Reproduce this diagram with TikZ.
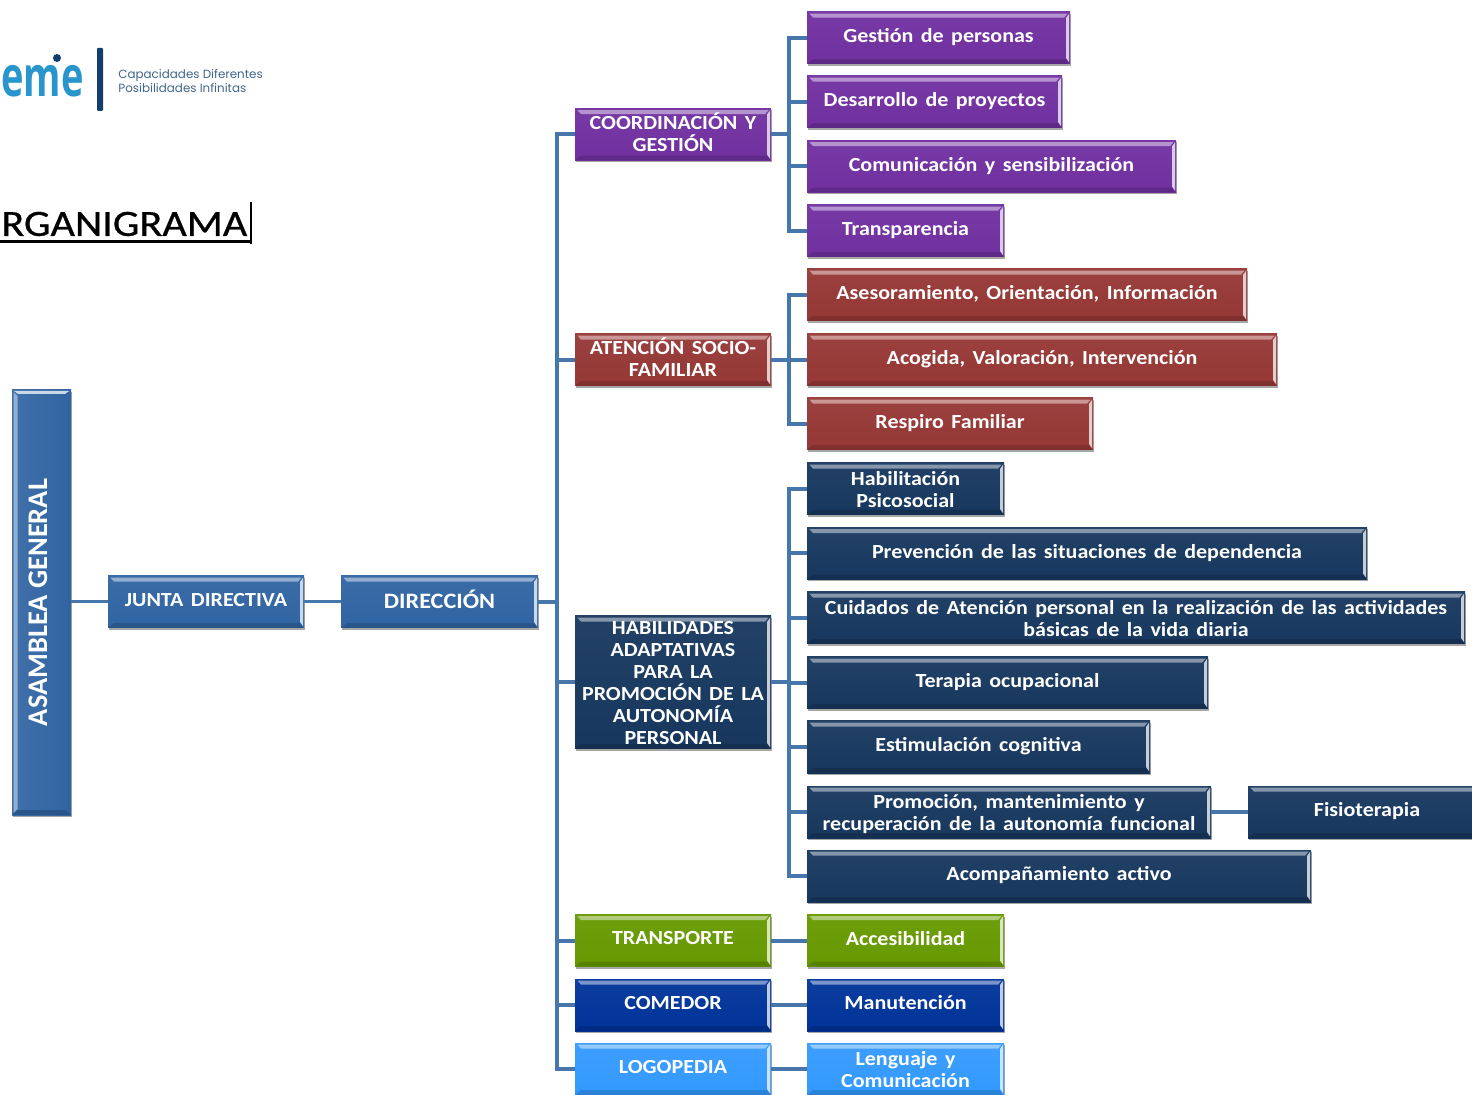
\documentclass[tikz,border=0pt]{standalone}
\usepackage{fontspec}
\usepackage{graphicx}
\setmainfont{Carlito}
\newfontfamily\boxfont{Carlito}[BoldFont={Carlito Bold},BoldFeatures={FakeStretch=1.1},WordSpace=1.5]
\newfontfamily\asamfont{Carlito}
\newfontfamily\titlefont{Carlito}[FakeStretch=1.14,FakeBold=0.7]
\newfontfamily\logofont{Open Sans}[BoldFeatures={FakeStretch=0.68}]
\newfontfamily\slogfont{Poppins}
\usetikzlibrary{shadows}
\definecolor{orgblue}{RGB}{48,100,162}
\definecolor{orgpurple}{RGB}{112,48,160}
\definecolor{orgred}{RGB}{149,55,53}
\definecolor{orgnavy}{RGB}{23,55,94}
\definecolor{orggreen}{RGB}{102,153,0}
\definecolor{orgdeep}{RGB}{0,51,153}
\definecolor{orgsky}{RGB}{51,153,255}
\definecolor{orglink}{RGB}{70,118,170}
\definecolor{logosky}{RGB}{40,150,205}
\definecolor{logonavy}{RGB}{18,62,110}
\tikzset{bevelbase/.style={rectangle, top color=#1!95!white, bottom color=#1, inner sep=0pt, outer sep=0pt, minimum height=26pt, align=center, text=white,
  text depth=2.5pt,
  font=\boxfont\bfseries\fontsize{10}{11}\selectfont,
  drop shadow={shadow xshift=0.5pt, shadow yshift=-1pt, opacity=.35, fill=black}},
  bevelbox/.style={bevelbase=#1,
  path picture={
    \fill[#1!52!white] ([shift={(1.2pt,-0.8pt)}]path picture bounding box.north west) -- ([shift={(-1.2pt,-0.8pt)}]path picture bounding box.north east)
      -- ([shift={(-3pt,-2.8pt)}]path picture bounding box.north east) -- ([shift={(3pt,-2.8pt)}]path picture bounding box.north west) -- cycle;
    \fill[#1!25!white] ([shift={(-0.4pt,-0.8pt)}]path picture bounding box.north east) -- ([shift={(-0.4pt,0.8pt)}]path picture bounding box.south east)
      -- ([shift={(-2pt,3pt)}]path picture bounding box.south east) -- ([shift={(-2pt,-3pt)}]path picture bounding box.north east) -- cycle;
    \fill[#1!85!black] (path picture bounding box.south west) -- ([shift={(-0.4pt,0pt)}]path picture bounding box.south east)
      -- ([shift={(-2pt,2.4pt)}]path picture bounding box.south east) -- ([shift={(2.8pt,2.4pt)}]path picture bounding box.south west) -- cycle;
  }}}
\tikzstyle{multiline} = [text depth=0pt]
\tikzstyle{link} = [line width=2pt, color=orglink]
\tikzstyle{thinlink} = [line width=1.5pt, color=orglink]
\begin{document}
\begin{tikzpicture}[x=0.5pt,y=-0.5pt]
\useasboundingbox (0,0) rectangle (1472,1095);
\clip (0,0) rectangle (1472,1095);
% logo and title
\node[anchor=east, inner sep=0pt, text=logosky, font=\logofont\bfseries\fontsize{28}{28}\selectfont] (logo) at (84,81) {eme};
\fill[logonavy] (57,58) circle (4);
\fill[logonavy, rounded corners=0.5pt] (97,48) rectangle (103,111);
\node[anchor=west, inner sep=0pt, align=left, text=logonavy!80!white, font=\slogfont\fontsize{5.95}{5.8}\selectfont] (slogan) at (118,81) {Capacidades Diferentes\\Posibilidades Infinitas};
\node[anchor=west, inner sep=0pt, font=\titlefont\fontsize{18.5}{20}\selectfont] (title) at (1,224) {RGANIGRAMA};
\draw[line width=1.2pt] (0,241.5) -- (251,241.5);
\draw[line width=1.2pt] (251,202) -- (251,244);

% main line
\node[bevelbase=orgblue, multiline, left color=orgblue!92!white, right color=orgblue, minimum width=29.5pt, minimum height=212.5pt, font=\asamfont\bfseries\fontsize{14.2}{14}\selectfont] (asamblea) at (41.5,602.5) {\hspace*{-3.5pt}\rotatebox{90}{ASAMBLEA GENERAL}};
\fill[orgblue!52!white] ([shift={(0.8pt,-1.2pt)}]asamblea.north west) -- ([shift={(0.8pt,1.2pt)}]asamblea.south west) -- ([shift={(2.8pt,3pt)}]asamblea.south west) -- ([shift={(2.8pt,-3pt)}]asamblea.north west) -- cycle;
\fill[orgblue!25!white] ([shift={(0.8pt,-0.4pt)}]asamblea.north west) -- ([shift={(-0.8pt,-0.4pt)}]asamblea.north east) -- ([shift={(-3pt,-2pt)}]asamblea.north east) -- ([shift={(3pt,-2pt)}]asamblea.north west) -- cycle;
\fill[orgblue!85!black] (asamblea.south west) -- (asamblea.south east) -- ([shift={(-2.4pt,2.4pt)}]asamblea.south east) -- ([shift={(2.8pt,2.4pt)}]asamblea.south west) -- cycle;
\node[bevelbox=orgblue, minimum width=98pt] (junta) at (206,602) {JUNTA DIRECTIVA};
\node[bevelbox=orgblue, minimum width=98.5pt, font=\boxfont\bfseries\fontsize{11}{12}\selectfont] (direccion) at (439.5,602) {DIRECCIÓN};

% areas
\node[bevelbox=orgpurple, minimum width=98pt] (coord) at (673,134.5) {COORDINACIÓN Y\\GESTIÓN};
\node[bevelbox=orgred, minimum width=98pt] (atencion) at (673,360) {ATENCIÓN SOCIO-\\FAMILIAR};
\node[bevelbox=orgnavy, multiline, minimum width=98pt, minimum height=66.5pt] (habil) at (673,682.5) {HABILIDADES\\ADAPTATIVAS\\PARA LA\\PROMOCIÓN DE LA\\AUTONOMÍA\\PERSONAL};
\node[bevelbox=orggreen, minimum width=98pt] (transporte) at (673,940.5) {TRANSPORTE};
\node[bevelbox=orgdeep, minimum width=98pt] (comedor) at (673,1005) {COMEDOR};
\node[bevelbox=orgsky, minimum width=98pt] (logopedia) at (673,1069) {LOGOPEDIA};

% services
\node[bevelbox=orgpurple, minimum width=131.5pt] (gestion) at (938.5,38) {Gestión de personas};
\node[bevelbox=orgpurple, minimum width=127.5pt] (proyectos) at (934.5,102) {Desarrollo de proyectos};
\node[bevelbox=orgpurple, minimum width=184.5pt] (comunic) at (991.5,166.5) {Comunicación y sensibilización};
\node[bevelbox=orgpurple, minimum width=98.5pt] (transp) at (905.5,231) {Transparencia};
\node[bevelbox=orgred, minimum width=220pt] (asesor) at (1027,295) {Asesoramiento, Orientación, Información};
\node[bevelbox=orgred, minimum width=235pt] (acogida) at (1042,360) {Acogida, Valoración, Intervención};
\node[bevelbox=orgred, minimum width=143pt] (respiro) at (950,424) {Respiro Familiar};
\node[bevelbox=orgnavy, multiline, minimum width=98.5pt] (psico) at (905.5,489) {Habilitación\\Psicosocial};
\node[bevelbox=orgnavy, minimum width=280pt] (prevencion) at (1087,553.5) {Prevención de las situaciones de dependencia};
\node[bevelbox=orgnavy, multiline, minimum width=329pt] (cuidados) at (1136,618) {Cuidados de Atención personal en la realización de las actividades\\básicas de la vida diaria};
\node[bevelbox=orgnavy, minimum width=200.5pt] (terapia) at (1007.5,683) {Terapia ocupacional};
\node[bevelbox=orgnavy, minimum width=171.5pt] (estim) at (978.5,747) {Estimulación cognitiva};
\node[bevelbox=orgnavy, multiline, minimum width=202pt] (promo) at (1009,812) {Promoción, mantenimiento y\\recuperación de la autonomía funcional};
\node[bevelbox=orgnavy, minimum width=119pt] (fisio) at (1367,812) {Fisioterapia};
\node[bevelbox=orgnavy, minimum width=252pt] (acomp) at (1059,876) {Acompañamiento activo};
\node[bevelbox=orggreen, minimum width=98.5pt] (accesib) at (905.5,940.5) {Accesibilidad};
\node[bevelbox=orgdeep, minimum width=98.5pt] (manut) at (905.5,1005) {Manutención};
\node[bevelbox=orgsky, multiline, minimum width=98.5pt] (lenguaje) at (905.5,1069) {Lenguaje y\\Comunicación};

% connectors
\coordinate (trunk) at (557,602);
\coordinate (busa) at (789,134.5);
\coordinate (busb) at (789,360);
\coordinate (busc) at (789,682.5);
\draw[thinlink] (asamblea.east |- junta) -- (junta.west);
\draw[thinlink] (junta.east) -- (direccion.west);
\draw[link] (direccion.east) -- (trunk);
\foreach \n in {coord,atencion,habil,transporte,comedor,logopedia}
  \draw[link] (trunk) |- (\n.west);
\draw[link] (coord.east) -- (busa);
\foreach \n in {gestion,proyectos,comunic,transp}
  \draw[link] (busa) |- (\n.west);
\draw[link] (atencion.east) -- (busb);
\foreach \n in {asesor,acogida,respiro}
  \draw[link] (busb) |- (\n.west);
\draw[link] (habil.east) -- (busc);
\foreach \n in {psico,prevencion,cuidados,terapia,estim,promo,acomp}
  \draw[link] (busc) |- (\n.west);
\draw[link] (promo.east) -- (fisio.west);
\draw[link] (transporte.east) -- (accesib.west);
\draw[link] (comedor.east) -- (manut.west);
\draw[link] (logopedia.east) -- (lenguaje.west);
\end{tikzpicture}
\end{document}
